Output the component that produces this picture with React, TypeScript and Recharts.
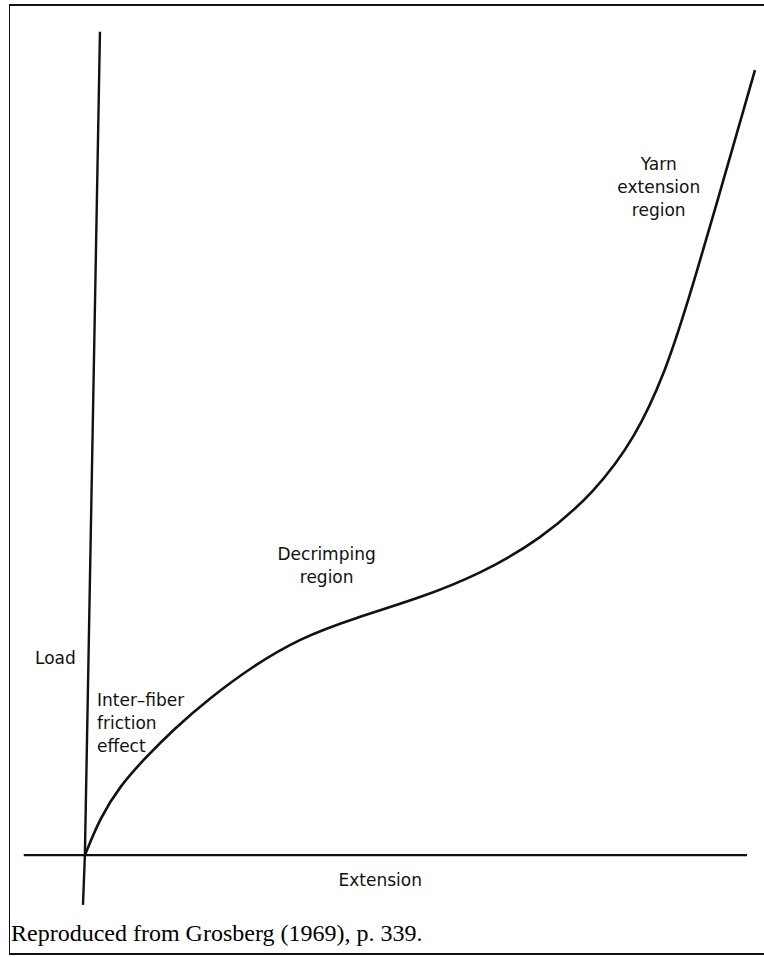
import React from "react";
import { ComposedChart, Line, XAxis, YAxis, ReferenceDot } from "recharts";

// Load–extension curve (arbitrary units: extension 0..100, load 0..100)
const curveExtension = [0, 2.22, 5.17, 8.85, 13.27, 18.42, 24.31, 31.68, 39.78, 49.35, 58.19, 67.02, 75.12, 81.01, 85.42, 89.1, 98.67];
const curveLoad = [0, 4.57, 8.5, 11.93, 15.62, 19.3, 22.99, 26.67, 29.13, 31.58, 34.53, 38.7, 44.59, 51.22, 59.2, 68.53, 96.4];

// hand-drawn axes
const loadAxisExtension = [-0.28, 0, 2.22];
const loadAxisLoad = [-6.1, 0, 101.1];
const extAxisExtension = [-9.0, 97.5];
const extAxisLoad = [0, 0];

// annotations
const annotationText = [
  ["Load"],
  ["Inter\u2013fiber", "friction", "effect"],
  ["Decrimping", "region"],
  ["Yarn", "extension", "region"],
  ["Extension"],
];
const annotationX = [-7.35, 1.78, 35.6, 84.5, 43.5];
const annotationY = [24.2, 16.2, 35.6, 82.0, -3.0];
const annotationAnchor = ["start", "start", "middle", "middle", "middle"];

const caption = "Reproduced from Grosberg (1969), p. 339.";

const zip = (xs: number[], ys: number[]) => xs.map((x, i) => ({ x, y: ys[i] }));
const curveData = zip(curveExtension, curveLoad);
const loadAxisData = zip(loadAxisExtension, loadAxisLoad);
const extAxisData = zip(extAxisExtension, extAxisLoad);

const FONT = "'DejaVu Sans', sans-serif";
const FONT_SIZE = 17;
const LINE_H = 23;

const MultiLabel = (lines: string[], anchor: string) => (props: any) => {
  const vb = props.viewBox || {};
  const cx = vb.x + (vb.width || 0) / 2;
  const cy = vb.y + (vb.height || 0) / 2;
  const n = lines.length;
  return (
    <text x={cx} y={cy} textAnchor={anchor as any} fontFamily={FONT} fontSize={FONT_SIZE} fill="#111">
      {lines.map((l, i) => (
        <tspan key={i} x={cx} y={cy - ((n - 1) * LINE_H) / 2 + i * LINE_H} dy="0.35em">
          {l}
        </tspan>
      ))}
    </text>
  );
};

const noDot = () => <g />;

export default function App() {
  return (
    <div style={{ position: "absolute", left: 0, top: 0, width: 764, height: 957, background: "#fff" }}>
      <ComposedChart width={764} height={957} margin={{ top: 0, right: 0, bottom: 0, left: 0 }}>
        <XAxis type="number" dataKey="x" domain={[-12.5, 100]} hide />
        <YAxis type="number" dataKey="y" domain={[-12.5, 105]} hide />
        <Line data={extAxisData} dataKey="y" stroke="#111" strokeWidth={2.2} dot={noDot} activeDot={false} isAnimationActive={false} type="linear" />
        <Line data={loadAxisData} dataKey="y" stroke="#111" strokeWidth={2.4} dot={noDot} activeDot={false} isAnimationActive={false} type="linear" />
        <Line data={curveData} dataKey="y" stroke="#111" strokeWidth={2.6} dot={noDot} activeDot={false} isAnimationActive={false} type="basis" />
        {annotationText.map((lines, i) => (
          <ReferenceDot
            key={i}
            x={annotationX[i]}
            y={annotationY[i]}
            r={0}
            fill="none"
            stroke="none"
            ifOverflow="visible"
            label={MultiLabel(lines, annotationAnchor[i])}
          />
        ))}
      </ComposedChart>
      <div style={{ position: "absolute", left: 9, top: 4, width: 755, height: 951, borderLeft: "1.5px solid #111", borderTop: "2px solid #111", borderBottom: "2px solid #111", boxSizing: "border-box", pointerEvents: "none" }} />
      <div style={{ position: "absolute", left: 11, top: 920, fontFamily: "'Liberation Serif', 'Times New Roman', serif", fontSize: 24, color: "#000", whiteSpace: "nowrap" }}>
        {caption}
      </div>
    </div>
  );
}
